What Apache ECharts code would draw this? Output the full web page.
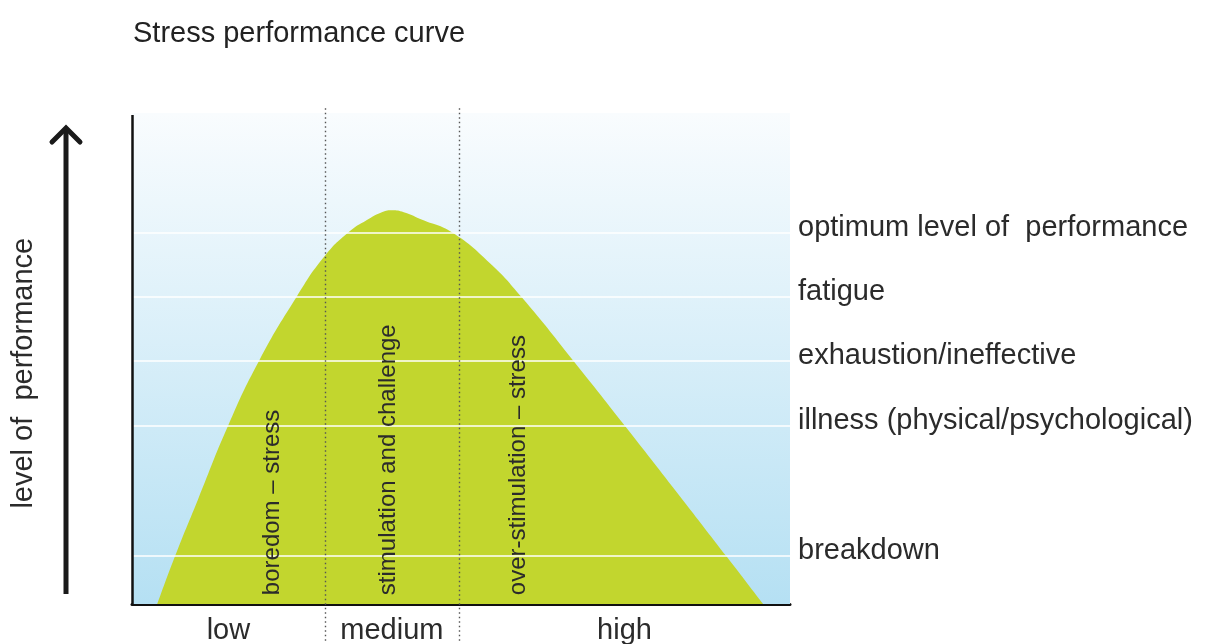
<!DOCTYPE html>
<html>
<head>
<meta charset="utf-8">
<script src="https://cdn.jsdelivr.net/npm/echarts@6/dist/echarts.min.js"></script>
<style>
  html, body { margin: 0; padding: 0; background: #fff; }
  #main { width: 1216px; height: 644px; }
</style>
</head>
<body>
<div id="main"></div>
<script>
// curve (stress on x, performance on y, both 0..100)
var curveX = [3.85, 6.5, 10.0, 14.6, 19.3, 25.0, 29.2, 32.9, 35.7, 37.8, 39.5, 41.3, 44.2, 48.6, 54.4, 59.2, 67.1, 74.9, 83.7, 90.4, 95.9];
var curveY = [0, 9.6, 21.2, 36.3, 49.5, 62.5, 70.7, 75.7, 78.2, 79.7, 80.2, 79.8, 78.2, 75.7, 69.4, 62.5, 49.5, 36.3, 21.2, 9.6, 0];

// levels on the right
var levelNames = ['optimum level of  performance', 'fatigue', 'exhaustion/ineffective', 'illness (physical/psychological)', 'breakdown'];
var levelValues = [75.6, 62.5, 49.5, 36.3, 9.8];

// stress zones along the bottom
var zoneNames = ['low', 'medium', 'high'];
var zoneBounds = [0, 29.3, 49.7, 100];
var zoneNameY = -5.6;

// vertical texts inside the curve
var zoneTexts = ['boredom – stress', 'stimulation and challenge', 'over-stimulation – stress'];
var zoneTextX = [21.3, 38.9, 58.7];
var zoneTextY = 1.8;

var zoneMid = [];
for (var i = 0; i < zoneNames.length; i++) {
  zoneMid.push((zoneBounds[i] + zoneBounds[i + 1]) / 2);
}

var chart = echarts.init(document.getElementById('main'), null, { renderer: 'canvas' });

var textColor = '#2b2b2b';
var fontFam = '"Liberation Sans", Arial, sans-serif';

// markLine items: level lines, y axis line, zone dividers
var lines = [];
levelValues.forEach(function (v, i) {
  lines.push({
    yAxis: v,
    name: levelNames[i],
    lineStyle: { color: '#ffffff', width: 1.6, type: 'solid' },
    label: {
      show: true,
      position: 'end',
      distance: 8,
      formatter: '{b}',
      color: textColor,
      fontSize: 29,
      fontFamily: fontFam,
      verticalAlign: 'bottom',
      lineHeight: 10
    }
  });
});
lines.push([
  { coord: [0, 0], lineStyle: { color: '#111', width: 2.5, type: 'solid' }, label: { show: false } },
  { coord: [0, 99.6] }
]);
zoneBounds.slice(1, -1).forEach(function (b) {
  lines.push([
    { coord: [b, -7.5], lineStyle: { color: '#555', width: 1.4, type: [1.5, 3] }, label: { show: false } },
    { coord: [b, 101.5] }
  ]);
});

// text-only scatter (no visible symbol)
function textSeries(names, xs, y, label) {
  return {
    type: 'scatter',
    silent: true,
    symbolSize: 0,
    itemStyle: { color: textColor, opacity: 1 },
    data: names.map(function (n, i) { return { name: n, value: [xs[i], y] }; }),
    label: Object.assign({
      show: true,
      position: 'inside',
      formatter: '{b}',
      color: textColor,
      opacity: 1,
      fontFamily: fontFam
    }, label),
    z: 6
  };
}

var option = {
  animation: false,
  title: {
    text: 'Stress performance curve',
    left: 128,
    top: 14,
    textStyle: { fontSize: 29, fontWeight: 'normal', color: '#222', fontFamily: fontFam }
  },
  grid: { left: 132, right: 426, top: 105.6, bottom: 3.2, outerBoundsMode: 'none' },
  xAxis: {
    type: 'value',
    min: 0,
    max: 100,
    splitLine: { show: false },
    axisTick: { show: false },
    axisLabel: { show: false },
    axisLine: { show: true, onZero: true, lineStyle: { color: '#111', width: 3 } }
  },
  yAxis: {
    type: 'value',
    min: -7.5,
    max: 101.5,
    name: 'level of  performance',
    nameLocation: 'middle',
    nameRotate: 90,
    nameGap: 94,
    nameTextStyle: { fontSize: 29, color: textColor, fontFamily: fontFam },
    splitLine: { show: false },
    axisTick: { show: false },
    axisLabel: { show: false },
    axisLine: { show: false }
  },
  graphic: [
    {
      type: 'line',
      shape: { x1: 66, y1: 130, x2: 66, y2: 594 },
      style: { stroke: '#1a1a1a', lineWidth: 5 }
    },
    {
      type: 'polyline',
      shape: { points: [[52, 142], [66, 128], [80, 142]] },
      style: { stroke: '#1a1a1a', lineWidth: 5, fill: null, lineCap: 'round' }
    }
  ],
  series: [
    {
      type: 'line',
      data: curveX.map(function (x, i) { return [x, curveY[i]]; }),
      smooth: 0.5,
      symbol: 'none',
      lineStyle: { width: 0 },
      areaStyle: { color: '#c2d62e', opacity: 1 },
      silent: true,
      markArea: {
        silent: true,
        label: { show: false },
        itemStyle: {
          color: new echarts.graphic.LinearGradient(0, 0, 0, 1, [
            { offset: 0, color: '#f9fcfe' },
            { offset: 1, color: '#b5e0f3' }
          ])
        },
        data: [[{ coord: [0, 0] }, { coord: [100, 100] }]]
      },
      markLine: {
        silent: true,
        symbol: ['none', 'none'],
        data: lines
      }
    },
    textSeries(zoneTexts, zoneTextX, zoneTextY, {
      rotate: 90,
      align: 'left',
      verticalAlign: 'middle',
      fontSize: 24
    }),
    textSeries(zoneNames, zoneMid, zoneNameY, {
      fontSize: 29
    })
  ]
};

chart.setOption(option);
</script>
</body>
</html>
